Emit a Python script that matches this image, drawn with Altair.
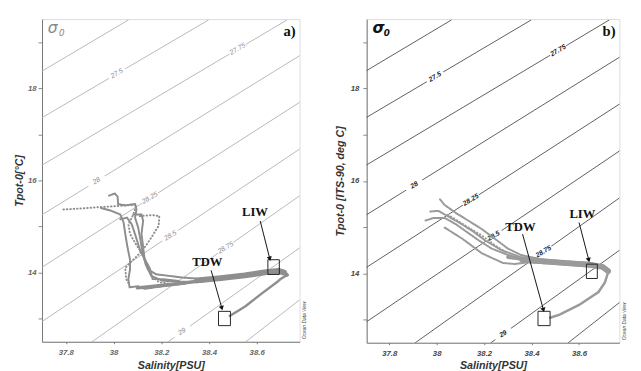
import altair as alt
import pandas as pd

# ---------------- axes ----------------
S_DOMAIN_A = [37.7, 38.78]
S_DOMAIN_B = [37.705, 38.77]
T_DOMAIN = [12.5, 19.5]
X_TICKS = [37.8, 38.0, 38.2, 38.4, 38.6]
Y_TICKS = [13, 14, 15, 16, 17, 18, 19]

# ---------------- isopycnals (sigma-0), end points ----------------
iso_sigma = [27.25, 27.5, 27.75, 28.0, 28.25, 28.5, 28.75, 29.0, 29.25]
iso_s_start = [37.68, 37.68, 37.68, 37.68, 37.68, 37.68, 37.907, 38.226, 38.552]
iso_t_start = [18.31, 17.30, 16.27, 15.19, 14.05, 12.87, 12.49, 12.49, 12.49]
iso_s_end = [38.062, 38.398, 38.727, 38.80, 38.80, 38.80, 38.80, 38.80, 38.80]
iso_t_end = [19.48, 19.48, 19.48, 18.77, 17.76, 16.75, 15.74, 14.61, 13.49]

# contour labels
lab_text = ["27.5", "27.75", "28", "28.25", "28.5", "28.75", "29"]
lab_s_a = [38.014, 38.52, 37.928, 38.152, 38.238, 38.47, 38.287]
lab_t_a = [18.32, 18.85, 15.99, 15.62, 14.80, 14.54, 12.72]
lab_s_b = [37.993, 38.512, 37.905, 38.144, 38.24, 38.45, 38.28]
lab_t_b = [18.25, 18.82, 15.91, 15.59, 14.81, 14.47, 12.69]

# ---------------- panel a profiles ----------------
a_names = ["a1", "a2", "a3", "a4", "a5", "a6"]
a_styles = ["solid", "dotted", "dotted", "solid", "solid", "solid"]
a_S = [
    [37.981, 38.005, 38.017, 38.019, 38.049, 38.090, 38.096, 38.090, 38.103, 38.113, 38.121, 38.135, 38.158, 38.205, 38.30],
    [37.790, 37.892, 37.974, 38.096, 38.083, 38.062, 38.069, 38.096, 38.124, 38.144, 38.158, 38.192, 38.25],
    [38.110, 38.164, 38.192, 38.189, 38.164, 38.137, 38.110, 38.076, 38.049, 38.053, 38.067],
    [37.947, 37.988, 38.028, 38.042, 38.049, 38.058, 38.069, 38.069, 38.062, 38.067, 38.103, 38.130, 38.205, 38.30],
    [38.083, 38.117, 38.124, 38.117, 38.124, 38.130, 38.144, 38.178, 38.233, 38.287, 38.35],
    [38.028, 38.056, 38.076, 38.094, 38.113, 38.151, 38.164, 38.205, 38.273],
]
a_T = [
    [15.669, 15.718, 15.648, 15.487, 15.459, 15.487, 15.368, 15.192, 14.982, 14.701, 14.455, 14.175, 13.929, 13.824, 13.80],
    [15.368, 15.403, 15.431, 15.473, 15.262, 15.052, 14.841, 14.596, 14.385, 14.139, 13.929, 13.789, 13.75],
    [15.227, 15.248, 15.227, 15.017, 14.806, 14.596, 14.420, 14.245, 14.104, 13.859, 13.732],
    [15.403, 15.346, 15.262, 15.087, 14.841, 14.560, 14.280, 14.069, 13.859, 13.683, 13.704, 13.648, 13.704, 13.76],
    [15.262, 15.262, 15.122, 14.841, 14.560, 14.280, 14.069, 13.964, 13.929, 13.894, 13.87],
    [15.157, 15.192, 15.052, 14.771, 14.455, 14.104, 13.859, 13.859, 13.82],
]
a_band_thin_S = [38.10, 38.20, 38.30, 38.43, 38.55, 38.64, 38.69, 38.718, 38.728]
a_band_thin_T = [13.67, 13.72, 13.78, 13.86, 13.93, 14.00, 14.04, 14.00, 13.95]
a_band_thick_S = [38.35, 38.45, 38.55, 38.64, 38.69, 38.715]
a_band_thick_T = [13.83, 13.88, 13.94, 14.01, 14.04, 14.00]
a_tail_S = [38.728, 38.70, 38.687, 38.622, 38.553, 38.487]
a_tail_T = [13.95, 13.86, 13.80, 13.55, 13.27, 13.06]

# ---------------- panel b profiles ----------------
b_names = ["b1", "b2", "b3", "b4", "b5"]
b_styles = ["solid", "solid", "solid", "solid", "dotted"]
b_S = [
    [38.014, 38.034, 38.082, 38.137, 38.191, 38.246, 38.300, 38.355, 38.437, 38.546, 38.655, 38.723],
    [37.973, 38.007, 38.048, 38.096, 38.150, 38.205, 38.273, 38.355, 38.464, 38.600, 38.682],
    [37.953, 37.987, 38.034, 38.082, 38.130, 38.178, 38.232, 38.300, 38.382, 38.491, 38.628],
    [38.034, 38.109, 38.191, 38.280, 38.328, 38.382, 38.491, 38.655],
    [38.048, 38.123, 38.191, 38.246, 38.300],
]
b_T = [
    [15.603, 15.478, 15.303, 15.129, 14.955, 14.746, 14.537, 14.398, 14.307, 14.258, 14.224, 14.029],
    [15.338, 15.352, 15.234, 15.094, 14.920, 14.711, 14.502, 14.349, 14.258, 14.189, 14.154],
    [15.143, 15.199, 15.199, 15.060, 14.885, 14.711, 14.537, 14.398, 14.293, 14.224, 14.168],
    [14.990, 14.746, 14.433, 14.224, 14.203, 14.238, 14.210, 14.140],
    [15.269, 15.025, 14.816, 14.607, 14.433],
]
b_band_thin_S = [38.30, 38.40, 38.50, 38.60, 38.68, 38.715, 38.725]
b_band_thin_T = [14.35, 14.28, 14.24, 14.20, 14.16, 14.10, 14.03]
b_band_thick_S = [38.36, 38.45, 38.55, 38.64, 38.70, 38.722]
b_band_thick_T = [14.30, 14.26, 14.22, 14.19, 14.14, 14.05]
b_tail_S = [38.723, 38.709, 38.682, 38.600, 38.518, 38.478]
b_tail_T = [14.03, 13.806, 13.597, 13.318, 13.109, 13.04]

# ---------------- water-mass boxes, arrows, labels ----------------
box_names = ["LIW", "TDW"]
a_box_s1 = [38.647, 38.44]
a_box_s2 = [38.695, 38.49]
a_box_t1 = [13.96, 12.85]
a_box_t2 = [14.28, 13.16]
b_box_s1 = [38.631, 38.427]
b_box_s2 = [38.677, 38.478]
b_box_t1 = [13.89, 12.87]
b_box_t2 = [14.20, 13.18]

a_arr_s1 = [38.615, 38.409]
a_arr_t1 = [15.12, 14.05]
a_arr_s2 = [38.655, 38.454]
a_arr_t2 = [14.30, 13.23]
b_arr_s1 = [38.600, 38.362]
b_arr_t1 = [15.10, 14.85]
b_arr_s2 = [38.641, 38.450]
b_arr_t2 = [14.29, 13.21]

a_txt_s = [38.593, 38.393]
a_txt_t = [15.31, 14.22]
b_txt_s = [38.614, 38.353]
b_txt_t = [15.28, 15.00]


def iso_df():
    rows = []
    for k, sg in enumerate(iso_sigma):
        rows.append({"sigma": sg, "i": 0, "S": iso_s_start[k], "T": iso_t_start[k]})
        rows.append({"sigma": sg, "i": 1, "S": iso_s_end[k], "T": iso_t_end[k]})
    return pd.DataFrame(rows)


def prof_df(names, styles, Ss, Ts):
    rows = []
    for n, st, ss, ts in zip(names, styles, Ss, Ts):
        for i, (s, t) in enumerate(zip(ss, ts)):
            rows.append({"profile": n, "style": st, "i": i, "S": s, "T": t})
    return pd.DataFrame(rows)


def seq_df(ss, ts):
    return pd.DataFrame({"S": ss, "T": ts, "i": list(range(len(ss)))})


def panel(cfg):
    w, h = cfg["w"], cfg["h"]
    X = alt.X("S:Q", scale=alt.Scale(domain=cfg["dom"], nice=False, zero=False),
              axis=alt.Axis(values=X_TICKS, format="~g", title="Salinity[PSU]", grid=False,
                            tickSize=2, labelPadding=5, titlePadding=3,
                            labelFontSize=8, labelFont="Liberation Sans", labelFontWeight="bold",
                            labelFontStyle="italic", labelColor=cfg["lab"],
                            titleFontSize=11, titleFont="Liberation Sans", titleFontWeight="bold",
                            titleFontStyle="italic", titleColor="#333",
                            domainColor="#777", tickColor="#777"))
    Y = alt.Y("T:Q", scale=alt.Scale(domain=T_DOMAIN, nice=False, zero=False),
              axis=alt.Axis(values=Y_TICKS, labelExpr="datum.value % 2 == 0 ? datum.label : ''",
                            title=cfg["ytitle"], grid=False, tickSize=4, labelPadding=cfg["lpad"],
                            titlePadding=cfg["tpad"],
                            labelFontSize=8, labelFont="Liberation Sans", labelFontWeight="bold",
                            labelFontStyle="italic", labelColor=cfg["lab"],
                            titleFontSize=11, titleFont="Liberation Sans", titleFontWeight="bold",
                            titleFontStyle="italic", titleColor="#333",
                            domainColor="#777", tickColor="#888"))

    iso = alt.Chart(iso_df()).mark_line(clip=True, color=cfg["iso"], strokeWidth=cfg["isow"]).encode(
        x=X, y=Y, detail="sigma:N", order="i:Q")

    labdf = pd.DataFrame({"lab": lab_text, "S": cfg["lab_s"], "T": cfg["lab_t"]})
    labbg = alt.Chart(labdf).mark_point(
        shape="M-1,-0.3L1,-0.3L1,0.3L-1,0.3Z", size=380, filled=True, color="white",
        opacity=1, angle=329, strokeWidth=0).encode(x=X, y=Y)
    labtx = alt.Chart(labdf).mark_text(
        angle=329, fontSize=7, font="Liberation Sans", fontStyle="italic",
        fontWeight=cfg["labw"], color=cfg["labc"]).encode(x=X, y=Y, text="lab:N")

    pdf = prof_df(cfg["names"], cfg["styles"], cfg["S"], cfg["T"])
    prof = alt.Chart(pdf).mark_line(clip=True, color=cfg["curve"], strokeWidth=2, strokeCap="round").encode(
        x=X, y=Y, detail="profile:N", order="i:Q",
        strokeDash=alt.StrokeDash("style:N", scale=alt.Scale(domain=["solid", "dotted"],
                                                             range=[[1, 0], [0.5, 3]]), legend=None))

    bthin = alt.Chart(seq_df(cfg["bt_S"], cfg["bt_T"])).mark_line(
        color=cfg["curve"], strokeWidth=3.5, strokeCap="round", strokeJoin="round").encode(x=X, y=Y, order="i:Q")
    bthick = alt.Chart(seq_df(cfg["bk_S"], cfg["bk_T"])).mark_line(
        color=cfg["curve"], strokeWidth=6, strokeCap="round", strokeJoin="round").encode(x=X, y=Y, order="i:Q")
    tail = alt.Chart(seq_df(cfg["tl_S"], cfg["tl_T"])).mark_line(
        color=cfg["curve"], strokeWidth=2.5, strokeCap="round").encode(x=X, y=Y, order="i:Q")

    boxdf = pd.DataFrame({"name": box_names, "S": cfg["bx_s1"], "S2": cfg["bx_s2"],
                          "T": cfg["bx_t1"], "T2": cfg["bx_t2"]})
    boxes = alt.Chart(boxdf).mark_rect(fillOpacity=0, stroke="#222", strokeWidth=1).encode(
        x=X, x2="S2:Q", y=Y, y2="T2:Q")

    arrdf = pd.DataFrame({"name": box_names, "S": cfg["ar_s1"], "T": cfg["ar_t1"],
                          "S2": cfg["ar_s2"], "T2": cfg["ar_t2"]})
    arrows = alt.Chart(arrdf).mark_rule(color="#111", strokeWidth=1).encode(
        x=X, y=Y, x2="S2:Q", y2="T2:Q")
    headdf = pd.DataFrame({"S": cfg["ar_s2"], "T": cfg["ar_t2"]})
    heads = alt.Chart(headdf).mark_point(shape="triangle-down", filled=True, color="#111",
                                         size=28, angle=345, opacity=1).encode(x=X, y=Y)

    txtdf = pd.DataFrame({"name": box_names, "S": cfg["tx_s"], "T": cfg["tx_t"]})
    txt = alt.Chart(txtdf).mark_text(font="Liberation Serif", fontWeight="bold", fontSize=13,
                                     color="#111", baseline="middle").encode(x=X, y=Y, text="name:N")

    one = pd.DataFrame({"s": ["σ"], "z": ["0"], "p": [cfg["tag"]], "o": ["Ocean Data View"]})
    sig = alt.Chart(one).mark_text(align="left", baseline="top", fontSize=16, font="DejaVu Sans",
                                   fontStyle="italic", fontWeight=cfg["sigw"], color=cfg["sigc"]).encode(
        x=alt.value(6), y=alt.value(1), text="s:N")
    sub = alt.Chart(one).mark_text(align="left", baseline="top", fontSize=9, font="DejaVu Sans",
                                   fontStyle="italic", fontWeight=cfg["sigw"], color=cfg["sigc"]).encode(
        x=alt.value(17.5), y=alt.value(10), text="z:N")
    tag = alt.Chart(one).mark_text(align="right", baseline="top", fontSize=15, font="Liberation Serif",
                                   fontWeight="bold", color="#111").encode(
        x=alt.value(w - 4), y=alt.value(5), text="p:N")
    odv = alt.Chart(one).mark_text(angle=270, fontSize=5, font="Liberation Sans", fontStyle="italic",
                                   color="#444", baseline="middle").encode(
        x=alt.value(w + 5), y=alt.value(h - 22), text="o:N")

    return alt.layer(iso, labbg, labtx, prof, bthin, bthick, tail, boxes, arrows, heads, txt,
                     sig, sub, tag, odv).properties(width=w, height=h)


cfg_a = dict(w=265, h=332, dom=S_DOMAIN_A, lab="#666", ytitle="Tpot-0[°C]", tpad=3, lpad=2,
             iso="#b0b0b0", isow=0.9, lab_s=lab_s_a, lab_t=lab_t_a, labw="normal", labc="#888",
             names=a_names, styles=a_styles, S=a_S, T=a_T, curve="#8e8e8e",
             bt_S=a_band_thin_S, bt_T=a_band_thin_T, bk_S=a_band_thick_S, bk_T=a_band_thick_T,
             tl_S=a_tail_S, tl_T=a_tail_T,
             bx_s1=a_box_s1, bx_s2=a_box_s2, bx_t1=a_box_t1, bx_t2=a_box_t2,
             ar_s1=a_arr_s1, ar_t1=a_arr_t1, ar_s2=a_arr_s2, ar_t2=a_arr_t2,
             tx_s=a_txt_s, tx_t=a_txt_t, sigw="normal", sigc="#888", tag="a)")
cfg_b = dict(w=260, h=333, dom=S_DOMAIN_B, lab="#444", ytitle="Tpot-0 [ITS-90, deg C]", tpad=5, lpad=4,
             iso="#4a4a4a", isow=0.9, lab_s=lab_s_b, lab_t=lab_t_b, labw="bold", labc="#222",
             names=b_names, styles=b_styles, S=b_S, T=b_T, curve="#9a9a9a",
             bt_S=b_band_thin_S, bt_T=b_band_thin_T, bk_S=b_band_thick_S, bk_T=b_band_thick_T,
             tl_S=b_tail_S, tl_T=b_tail_T,
             bx_s1=b_box_s1, bx_s2=b_box_s2, bx_t1=b_box_t1, bx_t2=b_box_t2,
             ar_s1=b_arr_s1, ar_t1=b_arr_t1, ar_s2=b_arr_s2, ar_t2=b_arr_t2,
             tx_s=b_txt_s, tx_t=b_txt_t, sigw="bold", sigc="#111", tag="b)")

chart = alt.hconcat(panel(cfg_a), panel(cfg_b), spacing=26).configure_view(
    stroke="#888", strokeWidth=1).configure(background="white")

chart.save("out.html", embed_options={"renderer": "svg", "actions": False})
